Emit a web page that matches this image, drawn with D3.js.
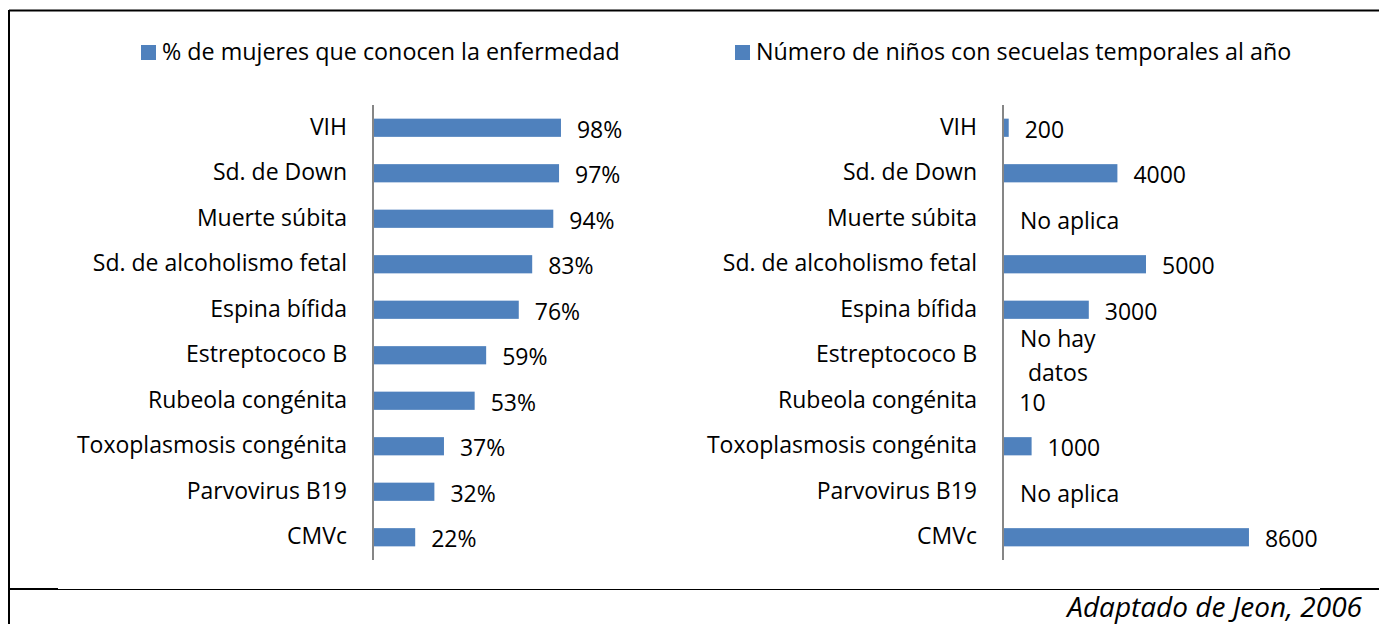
<!DOCTYPE html>
<html><head><meta charset="utf-8">
<script src="https://cdn.jsdelivr.net/npm/d3@7"></script>
<style>body{margin:0;background:#fff}svg{display:block}</style>
</head><body>
<script>
const categories = ["VIH","Sd. de Down","Muerte súbita","Sd. de alcoholismo fetal","Espina bífida","Estreptococo B","Rubeola congénita","Toxoplasmosis congénita","Parvovirus B19","CMVc"];
const pctWomen = [98,97,94,83,76,59,53,37,32,22];
const childrenSequelae = [200,4000,null,5000,3000,null,10,1000,null,8600];
const childrenLabels = ["200","4000","No aplica","5000","3000","No hay|datos","10","1000","No aplica","8600"];
const legend1 = "% de mujeres que conocen la enfermedad";
const legend2 = "Número de niños con secuelas temporales al año";
const caption = "Adaptado de Jeon, 2006";

const W=1379,H=624, COLOR="#4f81bd", FONT="'Open Sans', 'Noto Sans', sans-serif", FS=23;
const svg=d3.select("body").append("svg").attr("width",W).attr("height",H);

// frame
svg.append("line").attr("x1",9).attr("x2",W).attr("y1",10.5).attr("y2",10.5).attr("stroke","#000").attr("stroke-width",2);
svg.append("line").attr("x1",9).attr("x2",9).attr("y1",10).attr("y2",H).attr("stroke","#000").attr("stroke-width",2);
svg.append("line").attr("x1",9).attr("x2",W).attr("y1",589.5).attr("y2",589.5).attr("stroke","#000").attr("stroke-width",1);
svg.append("line").attr("x1",9).attr("x2",58).attr("y1",589).attr("y2",589).attr("stroke","#000").attr("stroke-width",2);
svg.append("line").attr("x1",1320).attr("x2",W).attr("y1",589).attr("y2",589).attr("stroke","#000").attr("stroke-width",2);

const y=d3.scaleBand().domain(categories).range([105,560]).paddingInner(0.6).paddingOuter(0.3);

function panel(x0, xmax, width, values, labels, legendX, legendText){
  const x=d3.scaleLinear().domain([0,xmax]).range([x0,x0+width]);
  const g=svg.append("g");
  // legend
  g.append("rect").attr("x",legendX).attr("y",45).attr("width",15).attr("height",15).attr("fill",COLOR);
  g.append("text").attr("x",legendX+21).attr("y",60).attr("font-family",FONT).attr("font-size",23.3).attr("fill","#000").text(legendText);
  // bars
  g.selectAll("rect.bar").data(categories.map((c,i)=>({c,v:values[i],l:labels[i]})).filter(d=>d.v!=null))
    .join("rect").attr("class","bar").attr("x",x(0)).attr("y",d=>y(d.c)).attr("width",d=>x(d.v)-x(0)).attr("height",y.bandwidth()).attr("fill",COLOR);
  // axis
  const ax=d3.axisLeft(y).tickSize(0).tickPadding(26);
  const ag=g.append("g").attr("transform",`translate(${x0},0)`).call(ax);
  ag.select(".domain").attr("stroke","#868686").attr("stroke-width",2).attr("d",`M0,105V560`);
  ag.selectAll("text").attr("font-family",FONT).attr("font-size",FS).attr("fill","#000").attr("dy",null).attr("y",7);
  // value labels
  categories.forEach((c,i)=>{
    const v=values[i], l=labels[i];
    const cy=y(c)+y.bandwidth()/2;
    const lx = v==null ? x0+17 : x(v)+16;
    const parts=l.split("|");
    const t=g.append("text").attr("font-family",FONT).attr("font-size",FS).attr("fill","#000");
    if(parts.length===1){
      t.attr("x",lx).attr("y",cy+10).text(l);
    } else {
      t.append("tspan").attr("x",lx).attr("y",cy-8).text(parts[0]);
      t.append("tspan").attr("x",lx+8).attr("y",cy+26).text(parts[1]);
    }
  });
}
panel(373,100,191.8,pctWomen,pctWomen.map(v=>v+"%"),141,legend1);
panel(1003,10000,286,childrenSequelae,childrenLabels,735,legend2);

svg.append("text").attr("x",1362).attr("y",617).attr("text-anchor","end").attr("font-family",FONT).attr("font-style","italic").attr("font-size",28).attr("fill","#000").text(caption);
</script>
</body></html>
